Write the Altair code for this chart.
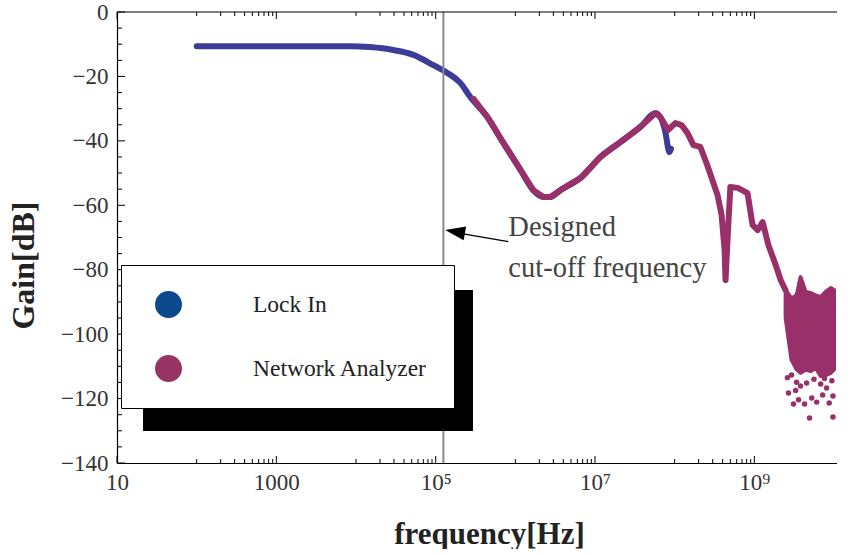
import altair as alt
import pandas as pd

# ---------------- data ----------------
lock_freq = [100, 470, 2000, 8500, 15000, 29300, 52500, 93700, 1.4e5, 2.04e5, 2.72e5,
             4.45e5, 7.1e5, 1.16e6, 1.68e6, 2.25e6, 2.75e6, 3.67e6, 6.6e6, 1.17e7, 2.08e7,
             3.7e7, 5.74e7, 6.6e7, 7.6e7, 8.6e7, 9.0e7]
lock_gain = [-10.6, -10.6, -10.6, -10.6, -10.9, -11.8, -13.3, -16.5, -18.9, -22.0, -26.4,
             -32.6, -40.7, -49.0, -55.3, -57.4, -57.4, -55.3, -51.5, -45.0, -40.4,
             -35.7, -31.4, -32.6, -37.0, -43.5, -42.5]

na_freq = [3.0e5, 4.45e5, 7.1e5, 1.16e6, 1.68e6, 2.25e6, 2.75e6, 3.67e6, 6.6e6, 1.17e7,
           2.08e7, 3.7e7, 5.74e7, 6.6e7, 8.3e7, 1.02e8, 1.22e8, 1.45e8, 1.72e8, 2.1e8,
           2.56e8, 3.45e8, 3.88e8, 4.23e8, 4.35e8, 4.6e8, 5.0e8, 6.2e8, 8.2e8, 9.5e8,
           1.1e9, 1.27e9, 1.5e9, 1.85e9, 2.14e9, 2.46e9]
na_gain = [-27.0, -32.6, -40.7, -49.0, -55.3, -57.4, -57.4, -55.3, -51.5, -45.0,
           -40.4, -35.7, -31.4, -32.6, -36.6, -34.5, -35.1, -37.6, -41.3, -41.9,
           -47.5, -56.8, -63.0, -73.9, -83.2, -70.8, -54.3, -54.6, -56.2, -66.1,
           -67.7, -65.2, -72.3, -78.5, -83.2, -86.3]

# noisy high-frequency part of the network analyzer trace (envelope of dense points)
band_freq = [2.47e9, 2.93e9, 3.4e9, 3.8e9, 4.4e9, 5.1e9, 5.9e9, 6.8e9, 7.85e9, 9.1e9, 1.0e10]
band_top = [-86.3, -89.0, -87.9, -82.3, -86.9, -87.2, -88.0, -88.5, -86.9, -85.7, -86.3]
band_bottom = [-95.0, -108.0, -111.0, -112.0, -111.0, -111.5, -110.5, -113.0, -112.7, -112.0, -111.0]

scatter_freq = [2.93e9, 3.39e9, 3.8e9, 4.53e9, 2.68e9, 3.59e9, 5.25e9, 7.2e9, 8.07e9,
                9.7e9, 8.7e9, 4.27e9, 6.06e9, 4.93e9, 9.7e9, 3.1e9, 6.8e9,
                2.6e9, 5.6e9, 9.4e9, 7.6e9, 3.3e9]
scatter_gain = [-112.7, -114.9, -116.1, -115.2, -118.3, -120.4, -119.8, -118.9, -116.7,
                -119.2, -121.4, -121.7, -121.1, -126.0, -125.7, -121.7, -115.5,
                -113.5, -114.0, -114.5, -113.8, -117.5]

series_names = ["Lock In", "Network Analyzer"]
legend_colors = ["#0b4a8c", "#963463"]
curve_colors = ["#3c3d99", "#99306a"]

cutoff_freq = 1.25e5
anno_lines = ["Designed", "cut-off frequency"]

x_label_values = [10, 1000, 1e5, 1e7, 1e9]
x_minor_ticks = [m * 10 ** k for k in (2, 4, 6, 8) for m in range(1, 10)]
y_label_values = [0, -20, -40, -60, -80, -100, -120, -140]
y_minor_ticks = [v for v in range(-135, 0, 5) if v % 20 != 0]

# ---------------- layout ----------------
W, H = 720, 451
SERIF = "Liberation Serif"

xscale = alt.Scale(type="log", domain=[10, 1.09e10], nice=False)
yscale = alt.Scale(domain=[-140, 0], nice=False, zero=False)

xaxis = alt.Axis(
    values=x_label_values,
    labelExpr="datum.value < 10000 ? format(datum.value, 'd') : '10' + ['⁰','¹','²','³','⁴','⁵','⁶','⁷','⁸','⁹'][round(log(datum.value)/LN10)]",
    ticks=False, grid=False, domainColor="black", domainWidth=1.2,
    labelFont=SERIF, labelFontSize=23, labelColor="#333", labelPadding=8,
    labelFlush=False, labelOverlap=False,
    title="frequency[Hz]", titleFont=SERIF, titleFontSize=31, titleFontWeight="bold",
    titleColor="#222", titleX=372, titleY=80, titleBaseline="alphabetic", titleAlign="center",
)
yaxis = alt.Axis(
    values=y_label_values,
    labelExpr="datum.value == 0 ? '0' : '\u2212' + format(-datum.value, 'd')",
    ticks=False, grid=False, domainColor="black", domainWidth=1.2,
    labelFont=SERIF, labelFontSize=23, labelColor="#333", labelPadding=9,
    labelFlush=False, labelOverlap=False,
    title="Gain[dB]", titleFont=SERIF, titleFontSize=32, titleFontWeight="bold",
    titleColor="#222", titleX=-84, titleY=253, titleAngle=270, titleBaseline="alphabetic",
    titleAlign="center",
)


def X(field="f"):
    return alt.X(f"{field}:Q", scale=xscale, axis=xaxis)


def Y(field="g"):
    return alt.Y(f"{field}:Q", scale=yscale, axis=yaxis)


lock_df = pd.DataFrame({"f": lock_freq, "g": lock_gain})
na_df = pd.DataFrame({"f": na_freq, "g": na_gain})
band_df = pd.DataFrame({"f": band_freq, "g": band_top, "g2": band_bottom})
scat_df = pd.DataFrame({"f": scatter_freq, "g": scatter_gain})

lock_line = alt.Chart(lock_df).mark_line(
    strokeWidth=6, strokeCap="round", strokeJoin="round", interpolate="monotone"
).encode(x=X(), y=Y(), color=alt.value(curve_colors[0]))

na_line = alt.Chart(na_df).mark_line(
    strokeWidth=6, strokeCap="round", strokeJoin="round"
).encode(x=X(), y=Y(), color=alt.value(curve_colors[1]))

na_band = alt.Chart(band_df).mark_area(
    stroke=curve_colors[1], strokeWidth=4, strokeJoin="round"
).encode(x=X(), y=Y(), y2="g2:Q", color=alt.value(curve_colors[1]))

na_scatter = alt.Chart(scat_df).mark_circle(size=30, opacity=1).encode(
    x=X(), y=Y(), color=alt.value(curve_colors[1])
)

# frame: top edge
top_edge = alt.Chart(alt.Data(values=[{}])).mark_rule(color="black", strokeWidth=1.2).encode(
    x=alt.value(0), x2=alt.value(W), y=alt.value(0)
)

# inward ticks
xmaj_df = pd.DataFrame({"f": x_label_values})
xmin_df = pd.DataFrame({"f": x_minor_ticks})
ymaj_df = pd.DataFrame({"g": y_label_values})
ymin_df = pd.DataFrame({"g": y_minor_ticks})

tick_layers = []
for df, ln in ((xmaj_df, 7), (xmin_df, 4)):
    tick_layers.append(alt.Chart(df).mark_rule(color="black", strokeWidth=1).encode(
        x=X(), y=alt.value(H), y2=alt.value(H - ln)))
    tick_layers.append(alt.Chart(df).mark_rule(color="black", strokeWidth=1).encode(
        x=X(), y=alt.value(0), y2=alt.value(ln)))
for df, ln in ((ymaj_df, 8), (ymin_df, 5)):
    tick_layers.append(alt.Chart(df).mark_rule(color="black", strokeWidth=1).encode(
        y=Y(), x=alt.value(0), x2=alt.value(ln)))

# cutoff line
cut_df = pd.DataFrame({"f": [cutoff_freq]})
cut_rule = alt.Chart(cut_df).mark_rule(color="#8a8a8a", strokeWidth=2).encode(
    x=X(), y=alt.value(0), y2=alt.value(H))

# annotation arrow + text
shaft_df = pd.DataFrame({"f": [8.17e5], "f2": [2.04e5], "g": [-71.3], "g2": [-68.7]})
shaft = alt.Chart(shaft_df).mark_rule(color="black", strokeWidth=1.3).encode(
    x=X(), x2="f2:Q", y=Y(), y2="g2:Q")
head_df = pd.DataFrame({"f": [1.75e5], "g": [-68.2]})
head = alt.Chart(head_df).mark_point(
    shape="M-1,0L1,-0.7L1,0.7Z", filled=True, size=400, angle=10, opacity=1
).encode(x=X(), y=Y(), color=alt.value("black"))

anno_df = pd.DataFrame({"t": anno_lines, "f": [8.17e5, 8.17e5], "g": [-69.5, -82.3]})
anno = alt.Chart(anno_df).mark_text(
    align="left", baseline="alphabetic", font=SERIF, fontSize=28.5, color="#444"
).encode(x=X(), y=Y(), text="t:N")

# legend shadow
shadow = alt.Chart(alt.Data(values=[{}])).mark_rect(color="black").encode(
    x=alt.value(26), x2=alt.value(356), y=alt.value(278), y2=alt.value(419)
)

legend_layer = alt.Chart(pd.DataFrame({"s": series_names})).mark_circle(opacity=1).encode(
    color=alt.Color(
        "s:N",
        scale=alt.Scale(domain=series_names, range=legend_colors),
        legend=alt.Legend(
            title=None, orient="none", legendX=4, legendY=253, direction="vertical",
            fillColor="white", strokeColor="black", padding=26,
            symbolOffset=8, labelOffset=71, rowPadding=37,
            symbolSize=729, symbolType="circle", symbolStrokeWidth=0, symbolOpacity=1,
            labelFont=SERIF, labelFontSize=23.5, labelColor="#222", labelLimit=400,
            zindex=1,
        ),
    )
).transform_filter("false")

chart = alt.layer(
    lock_line, na_line, na_band, na_scatter, cut_rule,
    *tick_layers, top_edge, shaft, head, anno, shadow, legend_layer
).properties(
    width=W, height=H,
    padding={"left": 117, "top": 12, "right": 0, "bottom": 86},
    autosize=alt.AutoSizeParams(type="none"),
    background="white",
).configure_view(stroke=None)

chart.save("out.html", embed_options={"renderer": "svg", "actions": False})
